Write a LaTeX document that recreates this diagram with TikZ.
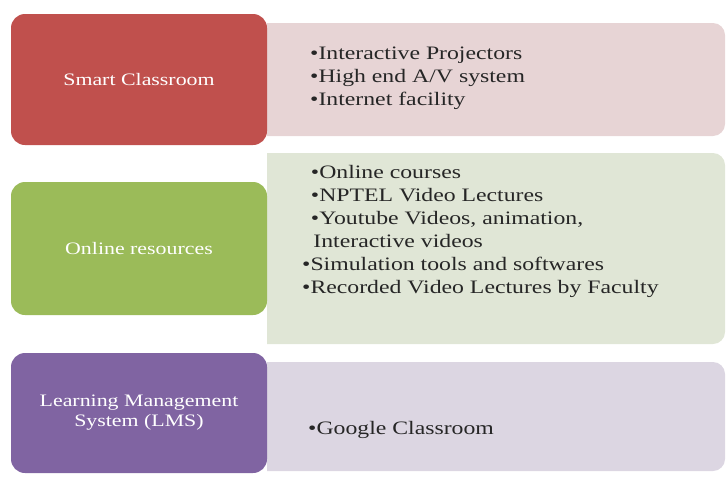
\documentclass[tikz,border=0pt]{standalone}
\usepackage{fontspec}
\setmainfont{Liberation Serif}
\usepackage{xcolor}
\definecolor{smart-red}{HTML}{C0504D}
\definecolor{smart-pale}{HTML}{E7D4D5}
\definecolor{online-green}{HTML}{9BBB59}
\definecolor{online-pale}{HTML}{E0E6D6}
\definecolor{lms-purple}{HTML}{8064A2}
\definecolor{lms-pale}{HTML}{DCD6E2}
\newcommand{\widen}[1]{\scalebox{1.25}[1]{#1}}
\newcommand{\listlines}[1]{\widen{\begin{tabular}{@{}l@{}}#1\end{tabular}}}
\tikzset{
    cat-box/.style = {rectangle, rounded corners=14pt, minimum width=256pt, inner sep=0pt, text=white, align=center, font=\fontsize{17.5}{20}\selectfont},
    list-box/.style = {rectangle, rounded corners=12pt, minimum width=470pt, inner sep=0pt},
    list-text/.style = {anchor=west, inner sep=0pt, text=black!85, font=\fontsize{19}{23}\selectfont},
}

\begin{document}
\begin{tikzpicture}[x=1pt, y=-1pt]
\useasboundingbox (0,0) rectangle (726,477);

% pale boxes behind, left corners hidden
\begin{scope}
\clip (267,0) rectangle (726,477);
\node [list-box, fill=smart-pale, minimum height=113pt] (smart-back) at (490,79.5) {};
\node [list-box, fill=online-pale, minimum height=191pt] (online-back) at (490,248.5) {};
\node [list-box, fill=lms-pale, minimum height=109pt] (lms-back) at (490,416.5) {};
\end{scope}

% category boxes
\node [cat-box, fill=smart-red, minimum height=131pt] (smart) at (139,79.5) {\widen{Smart Classroom}};
\node [cat-box, fill=online-green, minimum height=133pt] (online) at (139,248.5) {\widen{Online resources}};
\node [cat-box, fill=lms-purple, minimum height=120pt] (lms) at (139,413) {\widen{Learning Management}\\\widen{System (LMS)}};

% item lists
\node [list-text] (smart-items) at (310,78) {\listlines{•Interactive Projectors\\•High end A/V system\\•Internet facility}};
\node [list-text] (online-items) at (302,231) {\listlines{\hspace*{7pt}•Online courses\\\hspace*{7pt}•NPTEL Video Lectures\\\hspace*{7pt}•Youtube Videos, animation,\\\hspace*{9pt}Interactive videos\\•Simulation tools and softwares\\•Recorded Video Lectures by Faculty}};
\node [list-text] (lms-items) at (308,430) {\listlines{•Google Classroom}};
\end{tikzpicture}
\end{document}
